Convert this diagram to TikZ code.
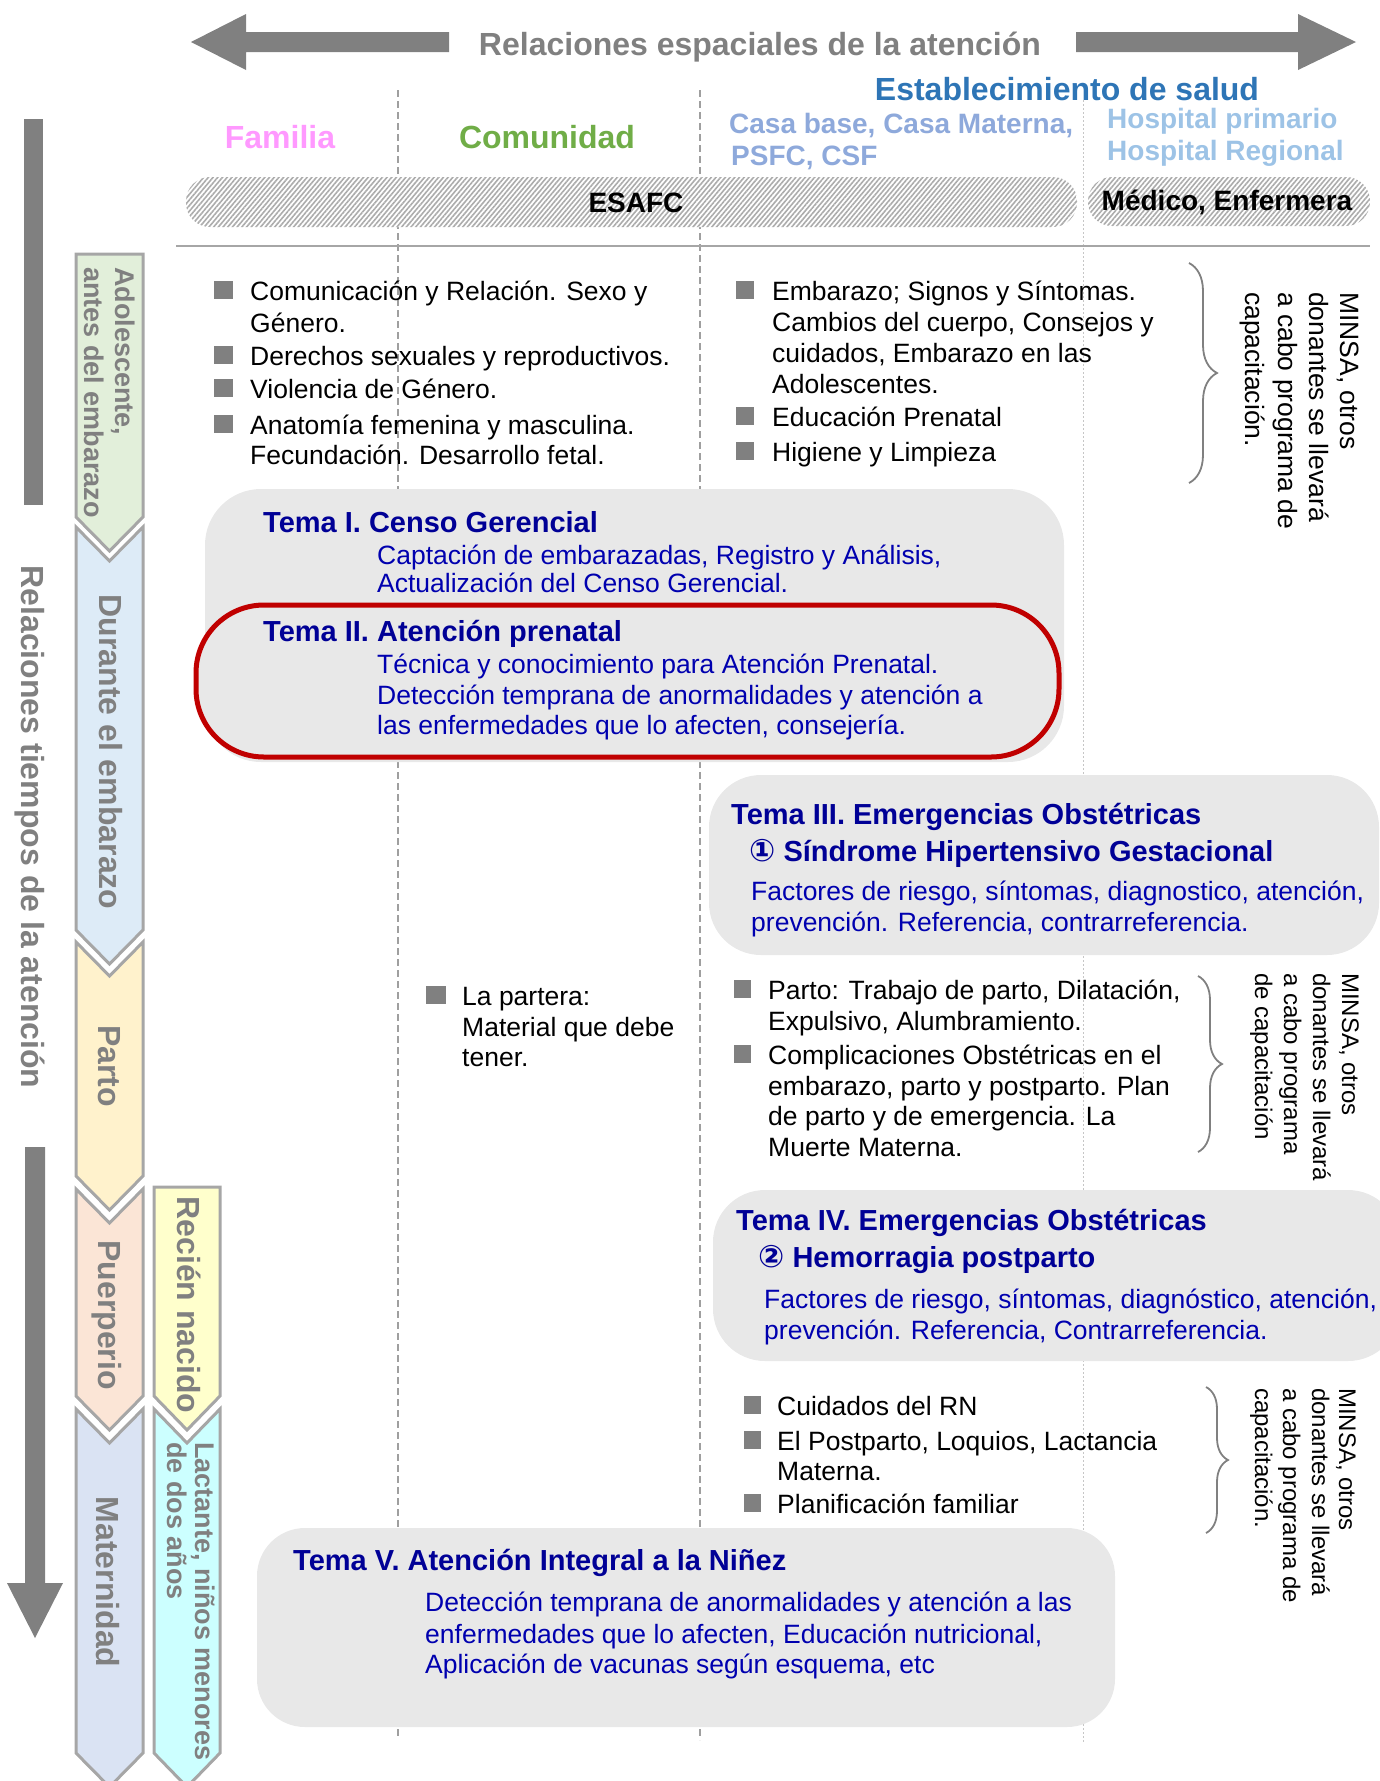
\documentclass[tikz,border=0pt]{standalone}
\usepackage{fontspec}
\setmainfont{Liberation Sans}
\newfontfamily\symfont{DejaVu Sans}
\usetikzlibrary{patterns.meta,decorations.pathreplacing}
\definecolor{arrowgray}{RGB}{128,128,128}
\definecolor{chevline}{RGB}{166,166,166}
\definecolor{cGreen}{RGB}{226,239,218}
\definecolor{cBlue}{RGB}{221,235,247}
\definecolor{cYellow}{RGB}{255,242,204}
\definecolor{cPeach}{RGB}{251,229,214}
\definecolor{cLav}{RGB}{218,227,243}
\definecolor{cLtYellow}{RGB}{255,255,204}
\definecolor{cCyan}{RGB}{204,255,255}
\definecolor{famPink}{RGB}{255,153,255}
\definecolor{comGreen}{RGB}{112,173,71}
\definecolor{estBlue}{RGB}{46,117,182}
\definecolor{casaBlue}{RGB}{142,169,219}
\definecolor{hospBlue}{RGB}{157,195,230}
\definecolor{boxGray}{RGB}{232,232,232}
\definecolor{temaTitle}{RGB}{0,0,150}
\definecolor{temaBody}{RGB}{0,0,175}
\definecolor{redline}{RGB}{192,0,0}
\definecolor{bulletGray}{RGB}{128,128,128}
\definecolor{sepGray}{RGB}{166,166,166}
\tikzset{
  body/.style={font=\fontsize{26.5}{31}\selectfont, inner sep=0pt, anchor=base west},
  bodyblue/.style={body, text=temaBody},
  tematitle/.style={font=\bfseries\fontsize{29}{34}\selectfont, text=temaTitle, inner sep=0pt, anchor=base west},
  vtext/.style={rotate=-90, inner sep=0pt, font=\fontsize{26.5}{31}\selectfont, anchor=base west},
  vtextsmall/.style={vtext, font=\fontsize{24}{28}\selectfont},
  chevtext/.style={rotate=-90, inner sep=0pt, font=\bfseries\fontsize{32}{38}\selectfont, text=arrowgray, anchor=base},
  chevsmall/.style={rotate=-90, inner sep=0pt, font=\bfseries\fontsize{27}{31}\selectfont, text=arrowgray, anchor=base west},
  chev/.style={draw=chevline, line width=3pt, line join=miter},
  temabox/.style={fill=boxGray, rounded corners=52pt},
  bulletsq/.style={fill=bulletGray},
  hatchpill/.style={preaction={fill=white}, pattern={Lines[angle=50,distance=3.6pt,line width=1.6pt]}, pattern color=gray!65, rounded corners=24pt},
  header/.style={font=\bfseries\fontsize{32}{38}\selectfont, inner sep=0pt, anchor=base},
  subheader/.style={font=\bfseries\fontsize{28}{33}\selectfont, inner sep=0pt, anchor=base west},
  bracestyle/.style={draw=arrowgray, line width=1.8pt, decorate, decoration={brace, amplitude=28pt, aspect=0.5}},
  colline/.style={draw=gray!75, line width=1.6pt, dash pattern=on 7pt off 4pt},
  colline2/.style={draw=gray!45, line width=1pt, dash pattern=on 2pt off 2pt},
}
\newcommand\circnum[1]{{\symfont\fontsize{31}{34}\selectfont #1}}
\begin{document}
\begin{tikzpicture}[x=1pt,y=-1pt]
\useasboundingbox (0,0) rectangle (1380,1781);
\clip (0,0) rectangle (1380,1781);

% ---------- horizontal top arrows ----------
\fill[arrowgray] (191,42) -- (246,14) -- (246,32) -- (449,32) -- (449,52) -- (246,52) -- (246,70) -- cycle;
\fill[arrowgray] (1356,42) -- (1298,14) -- (1298,32) -- (1076,32) -- (1076,52) -- (1298,52) -- (1298,70) -- cycle;
\node[font=\bfseries\fontsize{32}{37}\selectfont, text=arrowgray, inner sep=0pt, anchor=base] (spatial) at (760,55) {Relaciones espaciales de la atención};

% ---------- column headers ----------
\node[header, text=estBlue] (estab) at (1067,100) {Establecimiento de salud};
\node[header, text=famPink] (familia) at (280,148) {Familia};
\node[header, text=comGreen] (comunidad) at (547,148) {Comunidad};
\node[subheader, text=casaBlue] (casa1) at (729,133) {Casa base, Casa Materna,};
\node[subheader, text=casaBlue] (casa2) at (731,165) {PSFC, CSF};
\node[subheader, text=hospBlue] (hosp1) at (1107,128) {Hospital primario};
\node[subheader, text=hospBlue] (hosp2) at (1107,160) {Hospital Regional};

% ---------- column separators ----------
\draw[colline] (398,90) -- (398,1738);
\draw[colline] (700,90) -- (700,1740);
\draw[colline2] (1083,100) -- (1083,1742);
\draw[draw=sepGray, line width=2pt] (176,246) -- (1370,246);

% ---------- hatched pills ----------
\path[hatchpill] (186,177) rectangle (1077,227);
\path[hatchpill] (1088,177) rectangle (1370,226);
\node[font=\bfseries\fontsize{28}{33}\selectfont, inner sep=0pt, anchor=base] (esafc) at (636,212) {ESAFC};
\node[font=\bfseries\fontsize{28}{33}\selectfont, inner sep=0pt, anchor=base] (medico) at (1227,210) {Médico, Enfermera};

% ---------- vertical time arrow ----------
\fill[arrowgray] (24,119) rectangle (43,505);
\fill[arrowgray] (25,1147) -- (45,1147) -- (45,1583) -- (63,1583) -- (35,1638) -- (7,1583) -- (25,1583) -- cycle;
\node[chevtext] (tiempos) at (21,827) {Relaciones tiempos de la atención};

% ---------- chevrons ----------
\filldraw[chev, fill=cGreen] (76,254) -- (143,254) -- (143,517) -- (109.5,551) -- (76,517) -- cycle;
\filldraw[chev, fill=cBlue] (76,527) -- (109.5,561) -- (143,527) -- (143,930) -- (109.5,964) -- (76,930) -- cycle;
\filldraw[chev, fill=cYellow] (76,942) -- (109.5,976) -- (143,942) -- (143,1176) -- (109.5,1210) -- (76,1176) -- cycle;
\filldraw[chev, fill=cPeach] (76,1189) -- (109.5,1223) -- (143,1189) -- (143,1396) -- (109.5,1430) -- (76,1396) -- cycle;
\filldraw[chev, fill=cLav] (76,1409) -- (109.5,1443) -- (143,1409) -- (143,1753) -- (109.5,1787) -- (76,1753) -- cycle;
\filldraw[chev, fill=cLtYellow] (154,1187) -- (220,1187) -- (220,1396) -- (187,1430) -- (154,1396) -- cycle;
\filldraw[chev, fill=cCyan] (154,1409) -- (187,1443) -- (220,1409) -- (220,1753) -- (187,1787) -- (154,1753) -- cycle;

\node[chevsmall] (adol1) at (115,267) {Adolescente,};
\node[chevsmall] (adol2) at (84,267) {antes del embarazo};
\node[chevtext] (durante) at (99,752) {Durante el embarazo};
\node[chevtext] (parto) at (98,1066) {Parto};
\node[chevtext] (puerperio) at (98,1315) {Puerperio};
\node[chevtext] (maternidad) at (96,1582) {Maternidad};
\node[chevtext] (recien) at (177,1305) {Recién nacido};
\node[chevsmall] (lact1) at (195,1442) {Lactante, niños menores};
\node[chevsmall] (lact2) at (167,1442) {de dos años};

% ---------- top-left bullets ----------
\fill[bulletsq] (214,281) rectangle (233,299);
\fill[bulletsq] (214,346) rectangle (233,364);
\fill[bulletsq] (214,379) rectangle (233,397);
\fill[bulletsq] (214,415) rectangle (233,433);
\node[body] (f1) at (250,300) {Comunicación y Relación. Sexo y};
\node[body] (f2) at (250,332) {Género.};
\node[body] (f3) at (250,365) {Derechos sexuales y reproductivos.};
\node[body] (f4) at (250,398) {Violencia de Género.};
\node[body] (f5) at (250,434) {Anatomía femenina y masculina.};
\node[body] (f6) at (250,464) {Fecundación. Desarrollo fetal.};

% ---------- top-right bullets ----------
\fill[bulletsq] (736,281) rectangle (754,299);
\fill[bulletsq] (736,407) rectangle (754,425);
\fill[bulletsq] (736,442) rectangle (754,460);
\node[body] (c1) at (772,300) {Embarazo; Signos y Síntomas.};
\node[body] (c2) at (772,331) {Cambios del cuerpo, Consejos y};
\node[body] (c3) at (772,362) {cuidados, Embarazo en las};
\node[body] (c4) at (772,393) {Adolescentes.};
\node[body] (c5) at (772,426) {Educación Prenatal};
\node[body] (c6) at (772,461) {Higiene y Limpieza};

\draw[bracestyle] (1189,263) -- (1189,483);
\node[vtext] (m1a) at (1340,292) {MINSA, otros};
\node[vtext] (m1b) at (1309,292) {donantes se llevará};
\node[vtext] (m1c) at (1278,292) {a cabo programa de};
\node[vtext] (m1d) at (1245,292) {capacitación.};

% ---------- Tema I & II ----------
\path[temabox, rounded corners=56pt] (205,489) rectangle (1064,762);
\node[tematitle] (t1) at (263,532) {Tema I. Censo Gerencial};
\node[bodyblue] (t1a) at (377,564) {Captación de embarazadas, Registro y Análisis,};
\node[bodyblue] (t1b) at (377,592) {Actualización del Censo Gerencial.};

\path[fill=boxGray, draw=redline, line width=5pt, rounded corners=68pt] (196,605) rectangle (1059,757);
\node[tematitle] (t2) at (263,641) {Tema II. Atención prenatal};
\node[bodyblue] (t2a) at (377,673) {Técnica y conocimiento para Atención Prenatal.};
\node[bodyblue] (t2b) at (377,704) {Detección temprana de anormalidades y atención a};
\node[bodyblue] (t2c) at (377,734) {las enfermedades que lo afecten, consejería.};

% ---------- Tema III ----------
\path[temabox] (709,775) rectangle (1379,955);
\node[tematitle] (t3) at (731,824) {Tema III. Emergencias Obstétricas};
\node[tematitle] (t3s) at (749,861) {\circnum{①} Síndrome Hipertensivo Gestacional};
\node[bodyblue] (t3a) at (751,900) {Factores de riesgo, síntomas, diagnostico, atención,};
\node[bodyblue] (t3b) at (751,931) {prevención. Referencia, contrarreferencia.};

% ---------- partera ----------
\fill[bulletsq] (426,986) rectangle (446,1004);
\node[body] (p1) at (462,1005) {La partera:};
\node[body] (p2) at (462,1036) {Material que debe};
\node[body] (p3) at (462,1066) {tener.};

% ---------- parto bullets ----------
\fill[bulletsq] (734,980) rectangle (751,998);
\fill[bulletsq] (734,1045) rectangle (751,1063);
\node[body] (d1) at (768,999) {Parto: Trabajo de parto, Dilatación,};
\node[body] (d2) at (768,1030) {Expulsivo, Alumbramiento.};
\node[body] (d3) at (768,1064) {Complicaciones Obstétricas en el};
\node[body] (d4) at (768,1095) {embarazo, parto y postparto. Plan};
\node[body] (d5) at (768,1125) {de parto y de emergencia. La};
\node[body] (d6) at (768,1156) {Muerte Materna.};

\draw[bracestyle, decoration={amplitude=24pt}] (1198,976) -- (1198,1152);
\node[vtextsmall] (m2a) at (1342,973) {MINSA, otros};
\node[vtextsmall] (m2b) at (1313,973) {donantes se llevará};
\node[vtextsmall] (m2c) at (1284,973) {a cabo programa};
\node[vtextsmall] (m2d) at (1255,973) {de capacitación};

% ---------- Tema IV ----------
\path[temabox] (713,1190) rectangle (1400,1361);
\node[tematitle] (t4) at (736,1230) {Tema IV. Emergencias Obstétricas};
\node[tematitle] (t4s) at (758,1267) {\circnum{②} Hemorragia postparto};
\node[bodyblue] (t4a) at (764,1308) {Factores de riesgo, síntomas, diagnóstico, atención,};
\node[bodyblue] (t4b) at (764,1339) {prevención. Referencia, Contrarreferencia.};

% ---------- bottom bullets ----------
\fill[bulletsq] (744,1396) rectangle (761,1414);
\fill[bulletsq] (744,1431) rectangle (761,1449);
\fill[bulletsq] (744,1494) rectangle (761,1512);
\node[body] (b1) at (777,1415) {Cuidados del RN};
\node[body] (b2) at (777,1450) {El Postparto, Loquios, Lactancia};
\node[body] (b3) at (777,1480) {Materna.};
\node[body] (b4) at (777,1513) {Planificación familiar};

\draw[bracestyle, decoration={amplitude=22pt}] (1206,1387) -- (1206,1533);
\node[vtextsmall] (m3a) at (1339,1388) {MINSA, otros};
\node[vtextsmall] (m3b) at (1312,1388) {donantes se llevará};
\node[vtextsmall] (m3c) at (1283,1388) {a cabo programa de};
\node[vtextsmall] (m3d) at (1255,1388) {capacitación.};

% ---------- Tema V ----------
\path[temabox, rounded corners=48pt] (257,1528) rectangle (1115,1727);
\node[tematitle] (t5) at (293,1570) {Tema V. Atención Integral a la Niñez};
\node[bodyblue] (t5a) at (425,1611) {Detección temprana de anormalidades y atención a las};
\node[bodyblue] (t5b) at (425,1643) {enfermedades que lo afecten, Educación nutricional,};
\node[bodyblue] (t5c) at (425,1673) {Aplicación de vacunas según esquema, etc};
\end{tikzpicture}
\end{document}
